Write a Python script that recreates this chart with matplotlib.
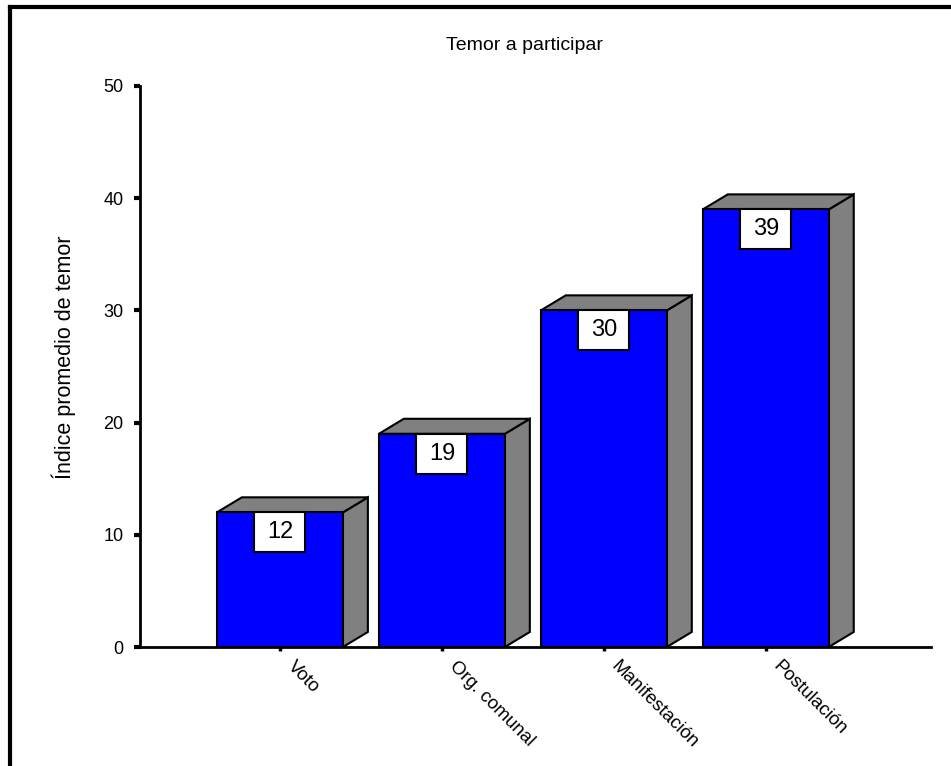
import matplotlib.pyplot as plt
from matplotlib.patches import Polygon, Rectangle
from matplotlib.lines import Line2D
from matplotlib.transforms import ScaledTranslation

plt.rcParams['font.family'] = ['Liberation Sans', 'DejaVu Sans']

categorias = ['Voto', 'Org. comunal', 'Manifestación', 'Postulación']
valores = [12, 19, 30, 39]
etiquetas = ['12', '19', '30', '39']
yticks = [0, 10, 20, 30, 40, 50]

W, H = 951, 766
fig = plt.figure(figsize=(W / 100, H / 100), dpi=100)
ax = fig.add_axes([140 / W, (H - 647) / H, 791 / W, 561 / H])

ancho = 0.778
dx, dy = 0.154, 1.34
caja_w, caja_h = 0.315, 3.56

for i, v in enumerate(valores):
    x0, x1 = i - ancho / 2, i + ancho / 2
    # cara lateral
    ax.add_patch(Polygon([(x1, 0), (x1 + dx, dy), (x1 + dx, v + dy), (x1, v)],
                         closed=True, fc='#808080', ec='black', lw=1.5, zorder=2))
    # cara superior
    ax.add_patch(Polygon([(x0, v), (x0 + dx, v + dy), (x1 + dx, v + dy), (x1, v)],
                         closed=True, fc='#808080', ec='black', lw=1.5, zorder=2))
    # frente
    ax.add_patch(Rectangle((x0, 0), ancho, v, fc='#0000FF', ec='black', lw=1.5, zorder=3))
    # caja del valor
    ax.add_patch(Rectangle((i - caja_w / 2, v - caja_h), caja_w, caja_h,
                           fc='white', ec='black', lw=1.5, zorder=4))
    ax.text(i, v - caja_h / 2, etiquetas[i], ha='center', va='center',
            fontsize=17, zorder=5)

ax.set_xlim(-0.864, 4.02)
ax.set_ylim(0, 50)
ax.set_yticks(yticks)
ax.set_yticklabels([str(t) for t in yticks], fontsize=13)
ax.set_xticks(range(len(categorias)))
ax.set_xticklabels([])
# etiquetas del eje x giradas, desplazadas a la derecha del tick
off = ScaledTranslation(10 / 100, -17 / 100, fig.dpi_scale_trans)
for i, c in enumerate(categorias):
    ax.text(i, 0, c, fontsize=13.5, rotation=-45, ha='left', va='center',
            rotation_mode='anchor', transform=ax.get_xaxis_transform() + off)
ax.tick_params(axis='y', length=4, width=3, pad=8)
ax.tick_params(axis='x', length=3, width=2.5)
for s in ['top', 'right']:
    ax.spines[s].set_visible(False)
ax.spines['left'].set_linewidth(2)
ax.spines['bottom'].set_linewidth(2)

ax.set_ylabel('Índice promedio de temor', fontsize=15.5)
ax.yaxis.set_label_coords(-0.081, 0.517)
fig.text(525 / W, 1 - 45 / H, 'Temor a participar', ha='center', va='center', fontsize=14)

# marco exterior
fig.add_artist(Line2D([10 / W, 10 / W], [0, 1 - 7 / H], color='black', lw=3,
                      transform=fig.transFigure))
fig.add_artist(Line2D([10 / W, 1], [1 - 7 / H, 1 - 7 / H], color='black', lw=3,
                      transform=fig.transFigure))

fig.savefig('out.png', dpi=100)
